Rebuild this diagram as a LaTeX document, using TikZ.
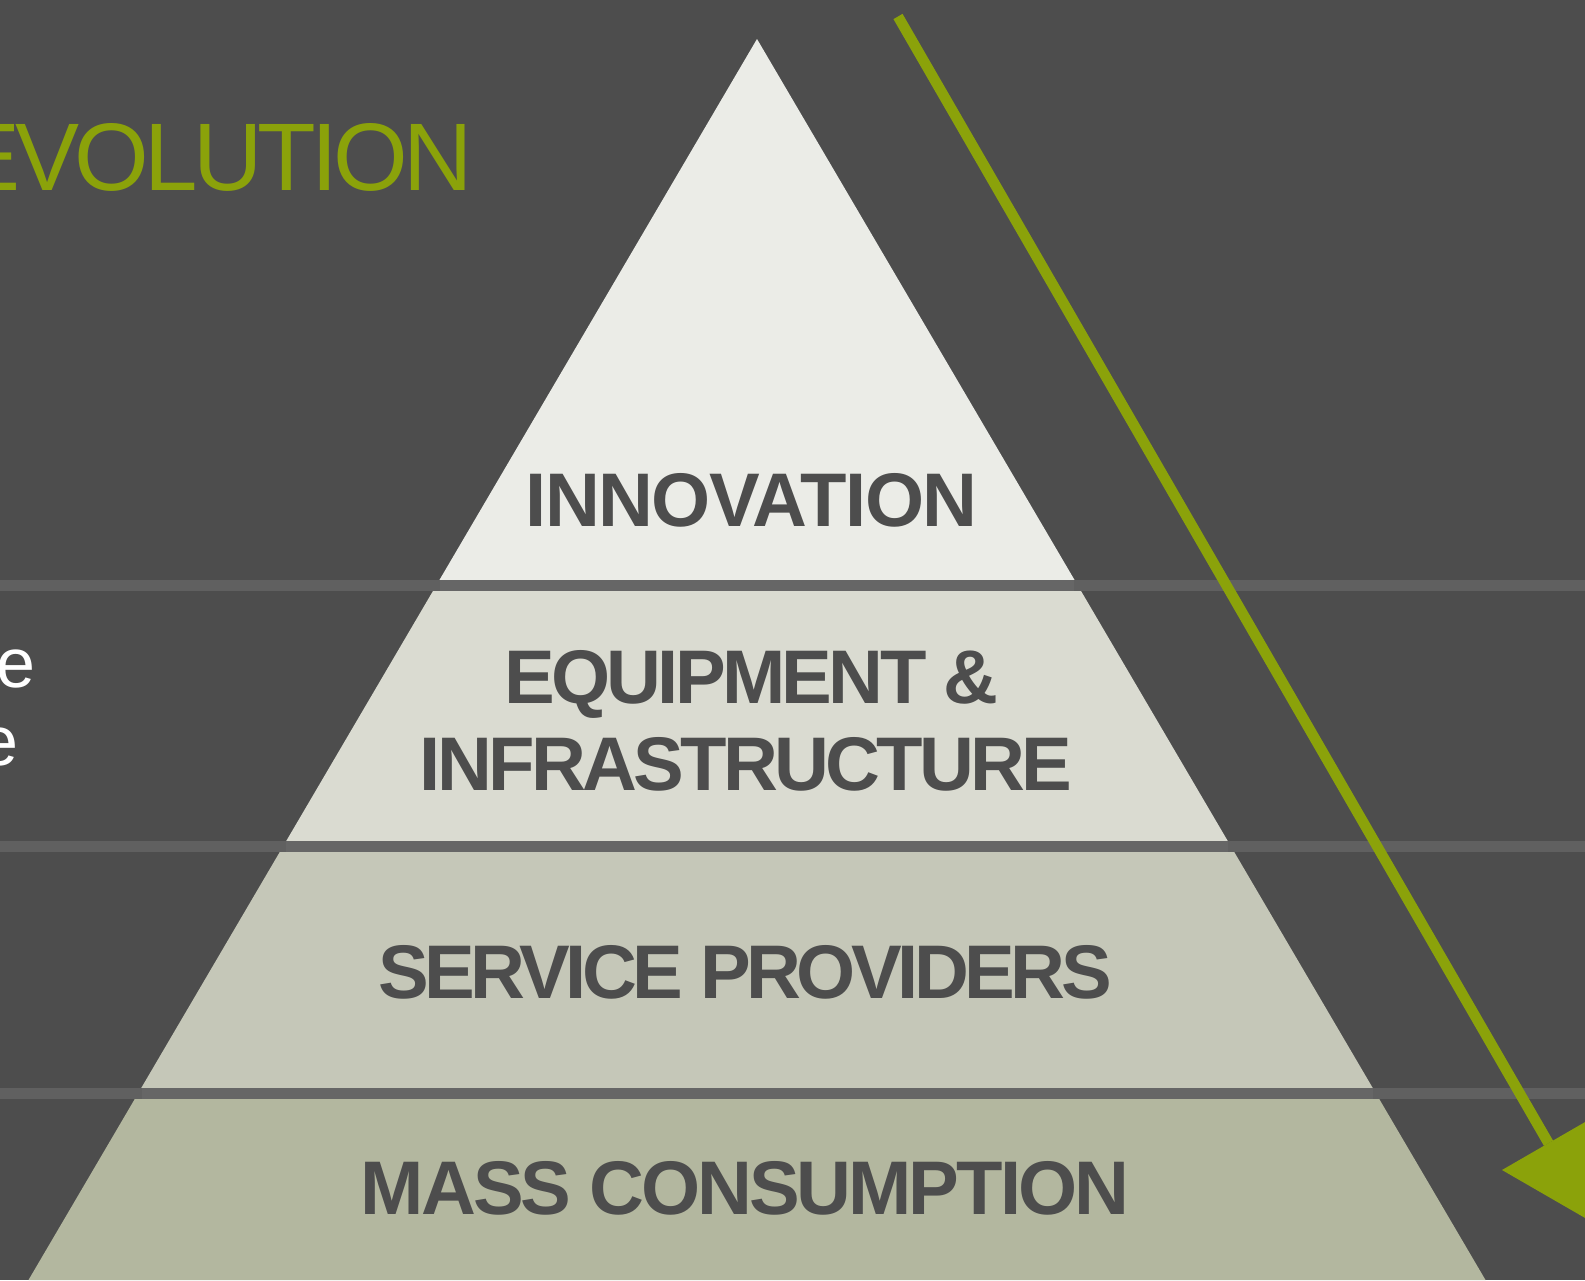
\documentclass[tikz,border=0pt]{standalone}
\usepackage{fontspec}
\setmainfont{Liberation Sans}
\newfontfamily\lblfont{Liberation Sans}
\newfontfamily\evofont{Liberation Sans}[LetterSpace=-5]
\definecolor{bgc}{HTML}{4D4D4D}
\definecolor{tierA}{HTML}{EBECE7}
\definecolor{tierB}{HTML}{DADBD1}
\definecolor{tierC}{HTML}{C5C7B8}
\definecolor{tierD}{HTML}{B3B79F}
\definecolor{bandout}{HTML}{606060}
\definecolor{bandin}{HTML}{666666}
\definecolor{accent}{HTML}{8BA20A}
\tikzset{
  lbl/.style={anchor=base, inner sep=0pt, text=bgc, align=center,
    font=\lblfont\bfseries\addfontfeature{LetterSpace=#1}\fontsize{38pt}{43.5pt}\selectfont},
  lbl/.default=-4.5,
  sidetext/.style={anchor=base east, inner sep=0pt, text=white,
    font=\fontsize{35pt}{40pt}\selectfont},
}
\begin{document}
\begin{tikzpicture}[x=0.5pt,y=-0.5pt]
\fill[bgc] (0,0) rectangle (1585,1280);
\useasboundingbox (0,0) rectangle (1585,1280);
% tiers
\fill[tierA] (757,39) -- (1077.5,585) -- (436.5,585) -- cycle;
\fill[tierB] (436.5,585) -- (1077.5,585) -- (1231,846.5) -- (283,846.5) -- cycle;
\fill[tierC] (283,846.5) -- (1231,846.5) -- (1375.7,1093) -- (138.3,1093) -- cycle;
\fill[tierD] (138.3,1093) -- (1375.7,1093) -- (1485.5,1280) -- (28.5,1280) -- cycle;
% bands
\foreach \yy in {579.5,841,1087.5} \fill[bandout] (0,\yy) rectangle (1585,\yy+11);
\fill[bandin] (439.7,579.5) rectangle (1074.3,590.5);
\fill[bandin] (286.2,841) rectangle (1227.8,852);
\fill[bandin] (141.5,1087.5) rectangle (1372.5,1098.5);
% labels
\node[lbl=-2] (innov) at (751.5,526) {INNOVATION};
\node[lbl=-4.9] (equip) at (746,790) {\hspace*{5.5pt}EQUIPMENT \&\\INFRASTRUCTURE};
\node[lbl=-5.9] (serv) at (745,998) {SERVICE PROVIDERS};
\node[lbl=-4.0] (mass) at (745,1214) {MASS CONSUMPTION};
% left texts
\node[anchor=base east, inner sep=0pt, text=accent,
  font=\evofont\fontsize{48pt}{52pt}\selectfont] (evo) at (473,190.5) {EVOLUTION};
\node[sidetext] (e1) at (36,687) {e};
\node[sidetext] (e2) at (19,765) {e};
% arrow
\coordinate (arrS) at (898,16.5);
\coordinate (arrM) at (1548.5,1143.2);
\coordinate (arrA) at (1502,1170);
\coordinate (arrB) at (1595,1116.3);
\coordinate (arrC) at (1595,1223.7);
\draw[accent, line width=5.25pt] (arrS) -- (arrM);
\fill[accent] (arrA) -- (arrB) -- (arrC) -- cycle;
\end{tikzpicture}
\end{document}
